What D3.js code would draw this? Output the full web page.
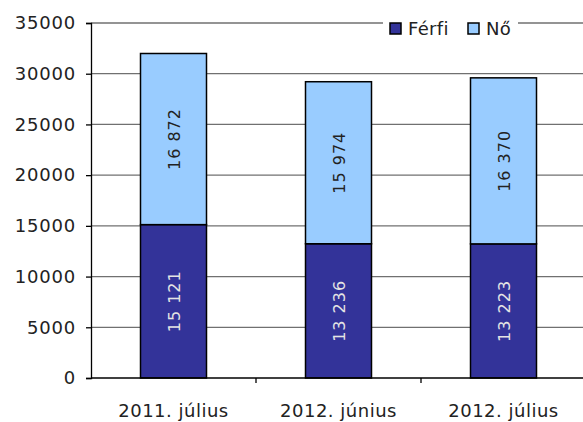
<!DOCTYPE html>
<html>
<head>
<meta charset="utf-8">
<script src="https://cdn.jsdelivr.net/npm/d3@7"></script>
<style>
  body { margin: 0; background: #fff; }
  text { font-family: "DejaVu Sans", sans-serif; }
</style>
</head>
<body>
<svg id="chart" width="583" height="422"></svg>
<script>
// data
const categories = ["2011. július", "2012. június", "2012. július"];
const ferfi = [15121, 13236, 13223];
const no = [16872, 15974, 16370];
const seriesNames = ["Férfi", "Nő"];
const yTicks = [0, 5000, 10000, 15000, 20000, 25000, 30000, 35000];

const colors = ["#333399", "#99ccff"];
const labelColors = ["#e4e4e4", "#222"];

const svg = d3.select("#chart");
const margin = { left: 91, right: -3, top: 23, bottom: 44 };
const W = 583, H = 422;

const x = d3.scaleBand()
  .domain(categories)
  .range([margin.left, W - margin.right])
  .paddingInner(0.6)
  .paddingOuter(0.3);

const y = d3.scaleLinear()
  .domain([0, 35000])
  .range([H - margin.bottom, margin.top]);

// gridlines
svg.append("g")
  .selectAll("line")
  .data(yTicks.slice(1))
  .join("line")
  .attr("x1", margin.left)
  .attr("x2", W)
  .attr("y1", d => y(d))
  .attr("y2", d => y(d))
  .attr("stroke", "#707070")
  .attr("stroke-width", 1.3);

// stacked data
const rows = categories.map((c, i) => ({ cat: c, "Férfi": ferfi[i], "Nő": no[i] }));
const stack = d3.stack().keys(seriesNames)(rows);

stack.forEach((s, si) => {
  svg.append("g")
    .selectAll("rect")
    .data(s)
    .join("rect")
    .attr("x", d => x(d.data.cat))
    .attr("width", x.bandwidth())
    .attr("y", d => y(d[1]))
    .attr("height", d => y(d[0]) - y(d[1]))
    .attr("fill", colors[si])
    .attr("stroke", "#000")
    .attr("stroke-width", 1.5);
});

// value labels
const fmt = v => d3.format(",")(v).replace(/,/g, " ");
stack.forEach((s, si) => {
  svg.append("g")
    .selectAll("text")
    .data(s)
    .join("text")
    .attr("transform", d => {
      const cx = x(d.data.cat) + x.bandwidth() / 2;
      const cy = (y(d[0]) + y(d[1])) / 2;
      return `translate(${cx + 6},${cy}) rotate(-90)`;
    })
    .attr("text-anchor", "middle")
    .attr("font-size", 16)
    .attr("letter-spacing", 1)
    .attr("fill", labelColors[si])
    .text(d => fmt(d[1] - d[0]));
});

// y axis
const yAxis = svg.append("g")
  .attr("transform", `translate(${margin.left},0)`)
  .call(d3.axisLeft(y).tickValues(yTicks).tickSize(5).tickPadding(10).tickFormat(d3.format("d")));
yAxis.select(".domain").attr("stroke", "#000").attr("stroke-width", 1.3);
yAxis.selectAll(".tick line").attr("stroke", "#000").attr("stroke-width", 1.3);
yAxis.selectAll(".tick text")
  .attr("font-size", 18)
  .attr("letter-spacing", 0.8)
  .attr("fill", "#222")
  .attr("font-family", "DejaVu Sans, sans-serif");

// x axis
const xBase = y(0);
svg.append("line")
  .attr("x1", margin.left).attr("x2", W)
  .attr("y1", xBase).attr("y2", xBase)
  .attr("stroke", "#000").attr("stroke-width", 1.3);

const step = x.step();
svg.append("g")
  .selectAll("line")
  .data(categories.slice(1))
  .join("line")
  .attr("x1", d => x(d) - step * 0.3)
  .attr("x2", d => x(d) - step * 0.3)
  .attr("y1", xBase)
  .attr("y2", xBase + 5)
  .attr("stroke", "#000")
  .attr("stroke-width", 1.3);

svg.append("g")
  .selectAll("text")
  .data(categories)
  .join("text")
  .attr("x", d => x(d) + x.bandwidth() / 2)
  .attr("y", 417)
  .attr("text-anchor", "middle")
  .attr("font-size", 18)
  .attr("letter-spacing", 0.5)
  .attr("fill", "#222")
  .text(d => d);

// legend
const legend = svg.append("g");
legend.append("rect")
  .attr("x", 383).attr("y", 15)
  .attr("width", 135).attr("height", 26)
  .attr("fill", "#fff");
const legendX = [390, 468];
seriesNames.forEach((name, i) => {
  legend.append("rect")
    .attr("x", legendX[i]).attr("y", 23)
    .attr("width", 11).attr("height", 11)
    .attr("fill", colors[i])
    .attr("stroke", "#000")
    .attr("stroke-width", 1.5);
  legend.append("text")
    .attr("x", legendX[i] + 18).attr("y", 35)
    .attr("font-size", 18)
    .attr("letter-spacing", 0.3)
    .attr("fill", "#222")
    .text(name);
});
</script>
</body>
</html>
